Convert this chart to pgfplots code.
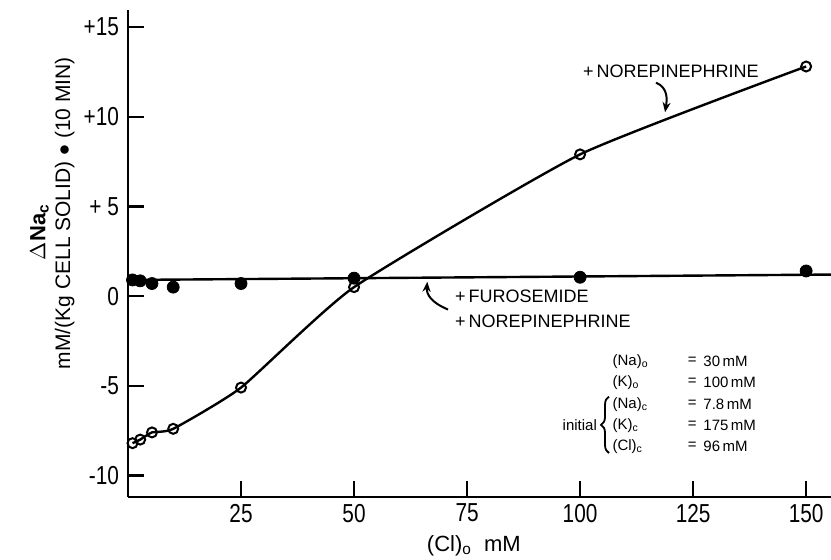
\documentclass[border=0pt]{standalone}
\usepackage{fontspec}
\setmainfont{Liberation Sans}
\newfontfamily\tickfont{Liberation Sans}[FakeStretch=0.8]
\usepackage{pgfplots}
\pgfplotsset{compat=1.18}
\usetikzlibrary{arrows.meta,decorations.pathreplacing}
\begin{document}
\begin{tikzpicture}
\begin{axis}[name=ax, scale only axis, width=351.5pt, height=243.5pt,
  xmin=0, xmax=155.5, ymin=-11.2, ymax=15.95,
  axis x line*=bottom, axis y line*=left,
  axis line style={line width=1.4pt, -},
  xtick={25,50,75,100,125,150}, xticklabels={25,50,75,100,125,150},
  ytick={-10,-5,0,5,10,15}, yticklabels={-10,-5,0,+ 5,+10,+15},
  xtick align=inside, ytick align=inside, major tick length=8pt,
  tick style={line width=1.1pt, black},
  ticklabel style={font=\tickfont\fontsize{13}{13}\selectfont},
  yticklabel style={xshift=-1pt},
  clip=false]
% furosemide + norepinephrine (filled)
\addplot[black, line width=1.2pt, no marks] coordinates {(0,0.9) (155.5,1.2)};
\addplot[only marks, mark=*, mark size=3pt, black] coordinates {
(1,0.9) (2.7,0.85) (5.3,0.7) (10,0.5) (25,0.7) (50,1.0) (100,1.05) (150,1.4)};
% norepinephrine (open)
\addplot[black, line width=1.2pt, smooth, tension=0.3, no marks] coordinates {
(1,-8.2) (2.7,-8.0) (5.3,-7.6) (10,-7.4) (25,-5.1) (50,0.5) (100,7.9) (150,12.8)};
\addplot[only marks, mark=o, mark size=2.5pt, black, mark options={fill=white, line width=1pt}] coordinates {
(1,-8.2) (2.7,-8.0) (5.3,-7.6) (10,-7.4) (25,-5.1) (50,0.5) (100,7.9) (150,12.8)};
% annotations
\node[font=\fontsize{9}{9}\selectfont] at (axis cs:120.1,12.55) {+\,NOREPINEPHRINE};
\draw[line width=1pt, -{Stealth[length=5pt,width=4pt]}] (axis cs:116.8,11.9) .. controls (axis cs:119.6,11.6) and (axis cs:119.2,10.9) .. (axis cs:118.8,10.25);
\node[font=\fontsize{9}{9}\selectfont, anchor=west] at (axis cs:70.8,0) {+\,FUROSEMIDE};
\node[font=\fontsize{9}{9}\selectfont, anchor=west] at (axis cs:70.8,-1.4) {+\,NOREPINEPHRINE};
\draw[line width=1pt, -{Stealth[length=5pt,width=4pt]}] (axis cs:70.8,-0.75) .. controls (axis cs:67,-0.35) and (axis cs:66,0.1) .. (axis cs:66.2,0.8);
% conditions
\begin{scope}[every node/.style={font=\fontsize{7.5}{7.5}\selectfont, inner sep=0pt}]
\node[anchor=west] at (axis cs:107.1,-3.63) {(Na)\textsubscript{o}};
\node[anchor=west] at (axis cs:107.1,-4.80) {(K)\textsubscript{o}};
\node[anchor=west] at (axis cs:107.1,-6.03) {(Na)\textsubscript{c}};
\node[anchor=west] at (axis cs:107.1,-7.20) {(K)\textsubscript{c}};
\node[anchor=west] at (axis cs:107.1,-8.37) {(Cl)\textsubscript{c}};
\node at (axis cs:124.8,-3.63) {=};
\node at (axis cs:124.8,-4.80) {=};
\node at (axis cs:124.8,-6.03) {=};
\node at (axis cs:124.8,-7.20) {=};
\node at (axis cs:124.8,-8.37) {=};
\node[anchor=west] at (axis cs:127.2,-3.63) {30\,mM};
\node[anchor=west] at (axis cs:127.2,-4.80) {100\,mM};
\node[anchor=west] at (axis cs:127.2,-6.03) {7.8\,mM};
\node[anchor=west] at (axis cs:127.2,-7.20) {175\,mM};
\node[anchor=west] at (axis cs:127.2,-8.37) {96\,mM};
\node[anchor=east] at (axis cs:103.8,-7.2) {initial};
\end{scope}
\draw[line width=0.9pt, decorate, decoration={brace, amplitude=4pt}] (axis cs:106.4,-8.75) -- (axis cs:106.4,-5.6);
% axis labels
\node[rotate=90, anchor=south, inner sep=0pt, font=\bfseries\fontsize{11}{11}\selectfont] at (rel axis cs:-0.112,0.544) {$\Delta$Na\textsubscript{c}};
\node[rotate=90, anchor=south, inner sep=0pt, font=\fontsize{10.5}{10.5}\selectfont] at (rel axis cs:-0.0754,0.583) {mM/(Kg CELL SOLID) $\bullet$ (10 MIN)};
\node[font=\fontsize{11}{11}\selectfont] at (rel axis cs:0.492,-0.1006) {(Cl)\textsubscript{o}\ \ mM};
\end{axis}
\pgfresetboundingbox
\path[use as bounding box] ([xshift=-64pt,yshift=-31.5pt]ax.south west) rectangle ([yshift=5pt]ax.north east);
\end{tikzpicture}
\end{document}
